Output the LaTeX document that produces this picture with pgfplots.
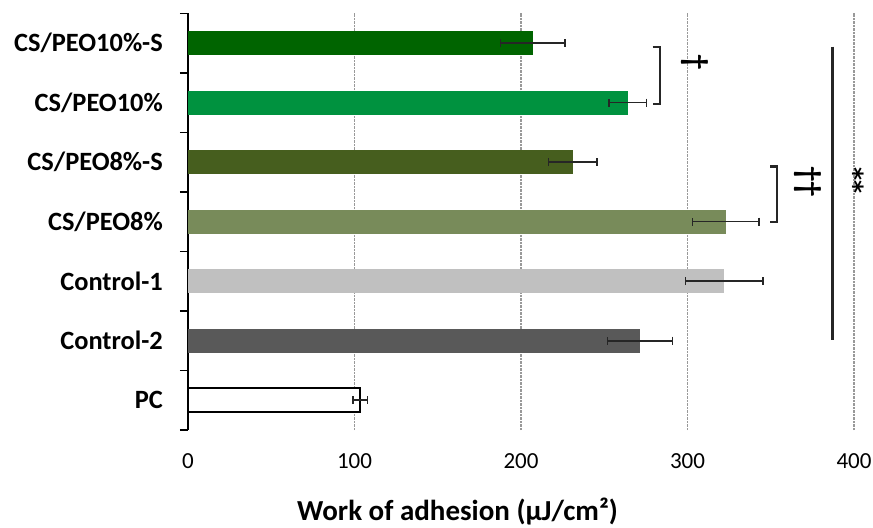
\documentclass[border=0pt]{standalone}
\usepackage{pgfplots}
\pgfplotsset{compat=1.18}
\usepackage{fontspec}
\setmainfont{Carlito}
\newfontfamily\djv{DejaVu Sans}
\definecolor{cA}{RGB}{0,100,0}
\definecolor{cB}{RGB}{0,146,63}
\definecolor{cC}{RGB}{70,94,30}
\definecolor{cD}{RGB}{120,139,90}
\definecolor{cE}{RGB}{192,192,192}
\definecolor{cF}{RGB}{89,89,89}
\definecolor{ink}{RGB}{38,38,38}
\pgfplotsset{errstyle/.style={sharp plot, draw=none, mark=none, forget plot,
  error bars/.cd, x dir=both, x explicit, error mark=|,
  error bar style={line width=1.6bp, draw=ink, solid},
  error mark options={line width=1.6bp, mark size=4bp, draw=ink, solid}}}
\begin{document}
\begin{tikzpicture}
\path[use as bounding box] (-188bp,-98bp) rectangle (685bp,430bp);
\begin{axis}[
  at={(0,0)}, anchor=south west,
  scale only axis, width=666bp, height=416.7bp,
  xmin=0, xmax=400, ymin=-0.5, ymax=6.5,
  xtick={0,100,200,300,400},
  ytick={0,1,2,3,4,5,6},
  yticklabels={PC,Control-2,Control-1,CS/PEO8\%,CS/PEO8\%-S,CS/PEO10\%,CS/PEO10\%-S},
  minor ytick={-0.5,0.5,1.5,2.5,3.5,4.5,5.5,6.5},
  major tick length=0pt, minor tick length=8bp,
  tick align=outside,
  minor tick style={black, line width=1.5bp},
  axis y line*=left, axis x line*=bottom,
  x axis line style={draw=none},
  y axis line style={-, black, line width=2bp},
  xmajorgrids, major x grid style={black!40, dash pattern=on 2.5bp off 1bp, line width=1.2bp},
  clip=false,
  /pgf/number format/assume math mode=true,
  xticklabel style={font=\fontsize{23bp}{27bp}\selectfont, anchor=center, yshift=-30.7bp},
  yticklabel style={font=\fontsize{26.4bp}{30bp}\selectfont\bfseries, anchor=east, inner sep=0pt, xshift=-25bp},
  xlabel={Work of adhesion (μJ/cm²)},
  xlabel style={font=\fontsize{29bp}{33bp}\selectfont\bfseries, at={(axis description cs:0.4047,-0.1944)}, anchor=center},
  xbar, bar width=24bp, bar shift=0pt,
]
\addplot[fill=cA, draw=none] coordinates {(207,6)};
\addplot[fill=cB, draw=none] coordinates {(264,5)};
\addplot[fill=cC, draw=none] coordinates {(231,4)};
\addplot[fill=cD, draw=none] coordinates {(323,3)};
\addplot[fill=cE, draw=none] coordinates {(322,2)};
\addplot[fill=cF, draw=none] coordinates {(271.5,1)};
\addplot[fill=white, draw=black, line width=1.5bp] coordinates {(103.4,0)};
\addplot[errstyle] coordinates {(207,6) +- (19.4,0)};
\addplot[errstyle] coordinates {(264,5) +- (11.3,0)};
\addplot[errstyle] coordinates {(231,4) +- (14.6,0)};
\addplot[errstyle] coordinates {(323,3) +- (20,0)};
\addplot[errstyle] coordinates {(322,2) +- (23.3,0)};
\addplot[errstyle] coordinates {(271.5,1) +- (19.5,0)};
\addplot[errstyle] coordinates {(103.4,0) +- (4.3,0)};
\draw[line width=2.2bp, ink] (axis cs:279,5.94) -- (axis cs:283.6,5.94) -- (axis cs:283.6,4.98) -- (axis cs:279,4.98);
\draw[line width=2.2bp, ink] (axis cs:349.6,3.926) -- (axis cs:353.6,3.926) -- (axis cs:353.6,2.993) -- (axis cs:349.6,2.993);
\draw[line width=3bp, ink] (axis cs:387.1,5.94) -- (axis cs:387.1,1.02);
\node[rotate=-90, inner sep=0pt, font=\fontsize{31bp}{34bp}\selectfont\bfseries] at (axis cs:304.6,5.67) {†};
\node[rotate=-90, inner sep=0pt, font=\fontsize{31bp}{34bp}\selectfont\bfseries] at (axis cs:372.4,3.67) {††};
\node[rotate=-90, inner sep=0pt, font=\fontsize{25bp}{28bp}\djv\bfseries] at (axis cs:400.7,3.69) {**};
\end{axis}
\end{tikzpicture}
\end{document}
